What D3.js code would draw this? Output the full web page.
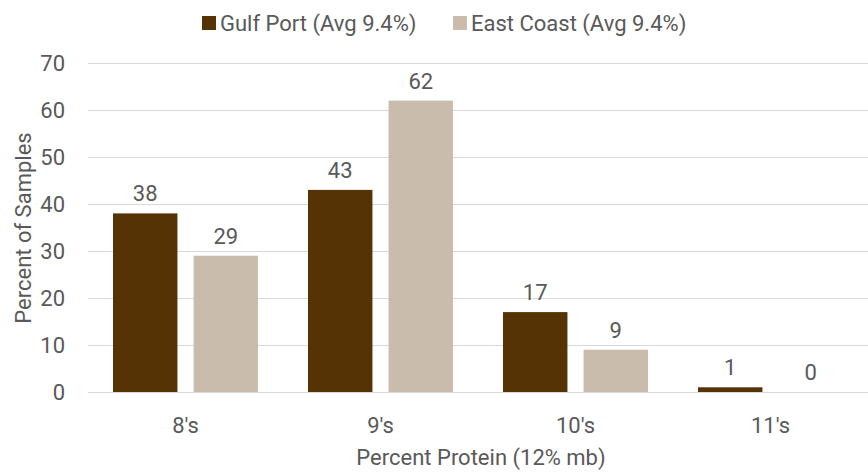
<!DOCTYPE html>
<html>
<head>
<meta charset="utf-8">
<script src="https://cdn.jsdelivr.net/npm/d3@7"></script>
<style>
  html, body { margin: 0; padding: 0; background: #fff; }
  svg text { font-family: Roboto, "Noto Sans", sans-serif; fill: #595959; }
</style>
</head>
<body>
<svg id="chart" width="868" height="473"></svg>
<script>
// Protein distribution by port
const categories = ["8's", "9's", "10's", "11's"];
const seriesNames = ["Gulf Port (Avg 9.4%)", "East Coast (Avg 9.4%)"];
const gulfPort = [38, 43, 17, 1];
const eastCoast = [29, 62, 9, 0];
const yTicks = [0, 10, 20, 30, 40, 50, 60, 70];
const colors = ["#553305", "#c9bcad"];

const svg = d3.select("#chart");
const margin = { top: 63, right: 0, bottom: 81, left: 88 };
const W = 868, H = 473;
const FS = 22;

const x0 = d3.scaleBand()
  .domain(categories)
  .range([margin.left, W - margin.right])
  .paddingInner(0)
  .paddingOuter(0);

const x1 = d3.scaleBand()
  .domain([0, 1])
  .range([25, x0.bandwidth() - 25])
  .paddingInner(0.2)
  .paddingOuter(0);

const y = d3.scaleLinear()
  .domain([0, 70])
  .range([H - margin.bottom, margin.top]);

// Horizontal gridlines
svg.append("g")
  .selectAll("line")
  .data(yTicks)
  .join("line")
  .attr("x1", margin.left)
  .attr("x2", W - margin.right)
  .attr("y1", d => Math.round(y(d)) + 0.5)
  .attr("y2", d => Math.round(y(d)) + 0.5)
  .attr("stroke", "#d9d9d9")
  .attr("stroke-width", 1);

// Y axis labels
const yAxis = svg.append("g")
  .attr("transform", `translate(${margin.left},0)`)
  .call(d3.axisLeft(y).tickValues(yTicks).tickSize(0).tickPadding(23));
yAxis.select(".domain").remove();
yAxis.selectAll("text")
  .attr("font-size", FS)
  .style("font-family", "Roboto, sans-serif")
  .attr("fill", "#595959");

// X axis labels
const xAxis = svg.append("g")
  .attr("transform", `translate(0,${y(0)})`)
  .call(d3.axisBottom(x0).tickSize(0).tickPadding(24));
xAxis.select(".domain").remove();
xAxis.selectAll("text")
  .attr("dy", null)
  .attr("y", 41)
  .attr("font-size", FS)
  .style("font-family", "Roboto, sans-serif")
  .attr("fill", "#595959");

const series = [gulfPort, eastCoast];
const groups = svg.append("g")
  .selectAll("g")
  .data(categories)
  .join("g")
  .attr("transform", d => `translate(${x0(d)},0)`);

series.forEach((vals, si) => {
  groups.append("rect")
    .attr("x", x1(si))
    .attr("width", x1.bandwidth())
    .attr("y", (d, i) => y(vals[i]))
    .attr("height", (d, i) => y(0) - y(vals[i]))
    .attr("fill", colors[si]);
  groups.append("text")
    .attr("x", x1(si) + x1.bandwidth() / 2)
    .attr("y", (d, i) => y(vals[i]) - 12)
    .attr("text-anchor", "middle")
    .attr("font-size", FS)
    .text((d, i) => vals[i]);
});

// Axis titles
svg.append("text")
  .attr("x", 481)
  .attr("y", 465)
  .attr("text-anchor", "middle")
  .attr("font-size", FS)
  .text("Percent Protein (12% mb)");

svg.append("text")
  .attr("transform", `translate(31,228) rotate(-90)`)
  .attr("text-anchor", "middle")
  .attr("font-size", FS)
  .text("Percent of Samples");

// Legend
const legendX = [202, 453];
const legend = svg.append("g");
seriesNames.forEach((name, i) => {
  legend.append("rect")
    .attr("x", legendX[i])
    .attr("y", 16)
    .attr("width", 14)
    .attr("height", 14)
    .attr("fill", colors[i]);
  legend.append("text")
    .attr("x", legendX[i] + 18)
    .attr("y", 31)
    .attr("font-size", FS)
    .text(name);
});
</script>
</body>
</html>
